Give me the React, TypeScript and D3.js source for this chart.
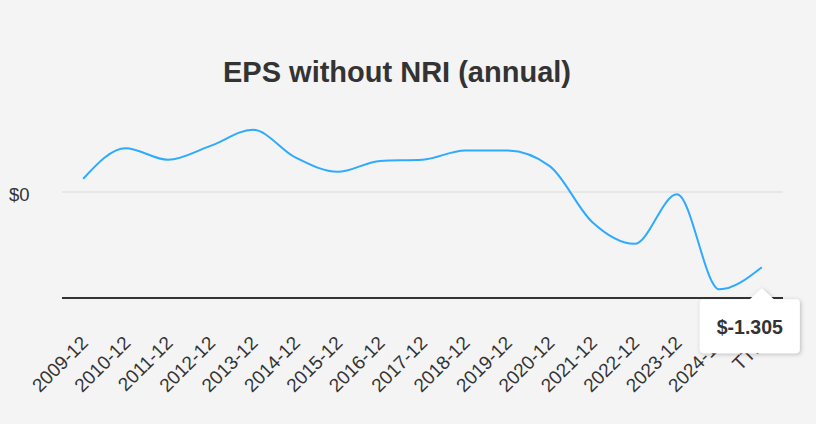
import React from 'react';
import * as d3 from 'd3';

const categories = [
  '2009-12', '2010-12', '2011-12', '2012-12', '2013-12', '2014-12', '2015-12', '2016-12',
  '2017-12', '2018-12', '2019-12', '2020-12', '2021-12', '2022-12', '2023-12', '2024-12', 'TTM',
];
const eps = [
  0.23, 0.76, 0.56, 0.8, 1.08, 0.6, 0.35, 0.54,
  0.56, 0.72, 0.72, 0.45, -0.52, -0.9, -0.04, -1.69, -1.305,
];
const yTicks = [0];
const yDomain = [-1.84, 1.84];

const W = 816;
const H = 424;
const margin = { top: 86, right: 33, bottom: 126, left: 62 };
const font = '"Liberation Sans", Arial, sans-serif';

const App = () => {
  const innerW = W - margin.left - margin.right;
  const bottom = H - margin.bottom;

  const x = d3.scaleBand<string>().domain(categories).range([margin.left, margin.left + innerW]);
  const cx = (c: string) => (x(c) as number) + x.bandwidth() / 2;
  const y = d3.scaleLinear().domain(yDomain).range([bottom, margin.top]);

  const line = d3.line<number>()
    .x((_, i) => cx(categories[i]))
    .y(d => y(d))
    .curve(d3.curveMonotoneX);

  // tooltip on the last point
  const last = eps.length - 1;
  const tipX = cx(categories[last]);
  const tipY = y(eps[last]);
  const boxW = 100;
  const boxH = 54;
  const boxX = tipX - 62;
  const boxY = tipY + 32;
  const r = 4;
  const tipPath = [
    `M${boxX + r},${boxY}`,
    `L${tipX - 12},${boxY}`,
    `L${tipX},${tipY + 21}`,
    `L${tipX + 12},${boxY}`,
    `L${boxX + boxW - r},${boxY}`,
    `Q${boxX + boxW},${boxY} ${boxX + boxW},${boxY + r}`,
    `L${boxX + boxW},${boxY + boxH - r}`,
    `Q${boxX + boxW},${boxY + boxH} ${boxX + boxW - r},${boxY + boxH}`,
    `L${boxX + r},${boxY + boxH}`,
    `Q${boxX},${boxY + boxH} ${boxX},${boxY + boxH - r}`,
    `L${boxX},${boxY + r}`,
    `Q${boxX},${boxY} ${boxX + r},${boxY}`,
    'Z',
  ].join(' ');

  return (
    <svg width={W} height={H} style={{ position: 'absolute', left: 0, top: 0, fontFamily: font }}>
      <defs>
        <filter id="shadow" x="-20%" y="-20%" width="150%" height="160%">
          <feDropShadow dx="1" dy="1" stdDeviation="2" floodColor="#000" floodOpacity="0.25" />
        </filter>
      </defs>
      <rect width={W} height={H} fill="#f4f4f4" />
      <text x={397} y={82} textAnchor="middle" fontSize={29} fontWeight="bold" fill="#333">
        EPS without NRI (annual)
      </text>

      {/* gridlines and y labels */}
      {yTicks.map(t => (
        <g key={t}>
          <line x1={margin.left} x2={margin.left + innerW} y1={y(t)} y2={y(t)} stroke="#e3e3e3" strokeWidth={1.5} />
          <text x={9} y={y(t) + 9} fontSize={18.5} fill="#333">{`$${t}`}</text>
        </g>
      ))}

      {/* x axis */}
      <line x1={margin.left} x2={margin.left + innerW} y1={bottom} y2={bottom} stroke="#333" strokeWidth={2} />
      {categories.map(c => (
        <text
          key={c}
          transform={`translate(${cx(c) + 6},${bottom + 46}) rotate(-45)`}
          textAnchor="end"
          fontSize={19}
          fill="#333"
        >
          {c}
        </text>
      ))}

      <path d={line(eps) || ''} fill="none" stroke="#2eaaff" strokeWidth={2} />

      <g filter="url(#shadow)">
        <path d={tipPath} fill="#fff" />
      </g>
      <text x={boxX + boxW / 2} y={boxY + 35} textAnchor="middle" fontSize={19.5} fontWeight="bold" fill="#333">
        {`$${eps[last]}`}
      </text>
    </svg>
  );
};

export default App;
